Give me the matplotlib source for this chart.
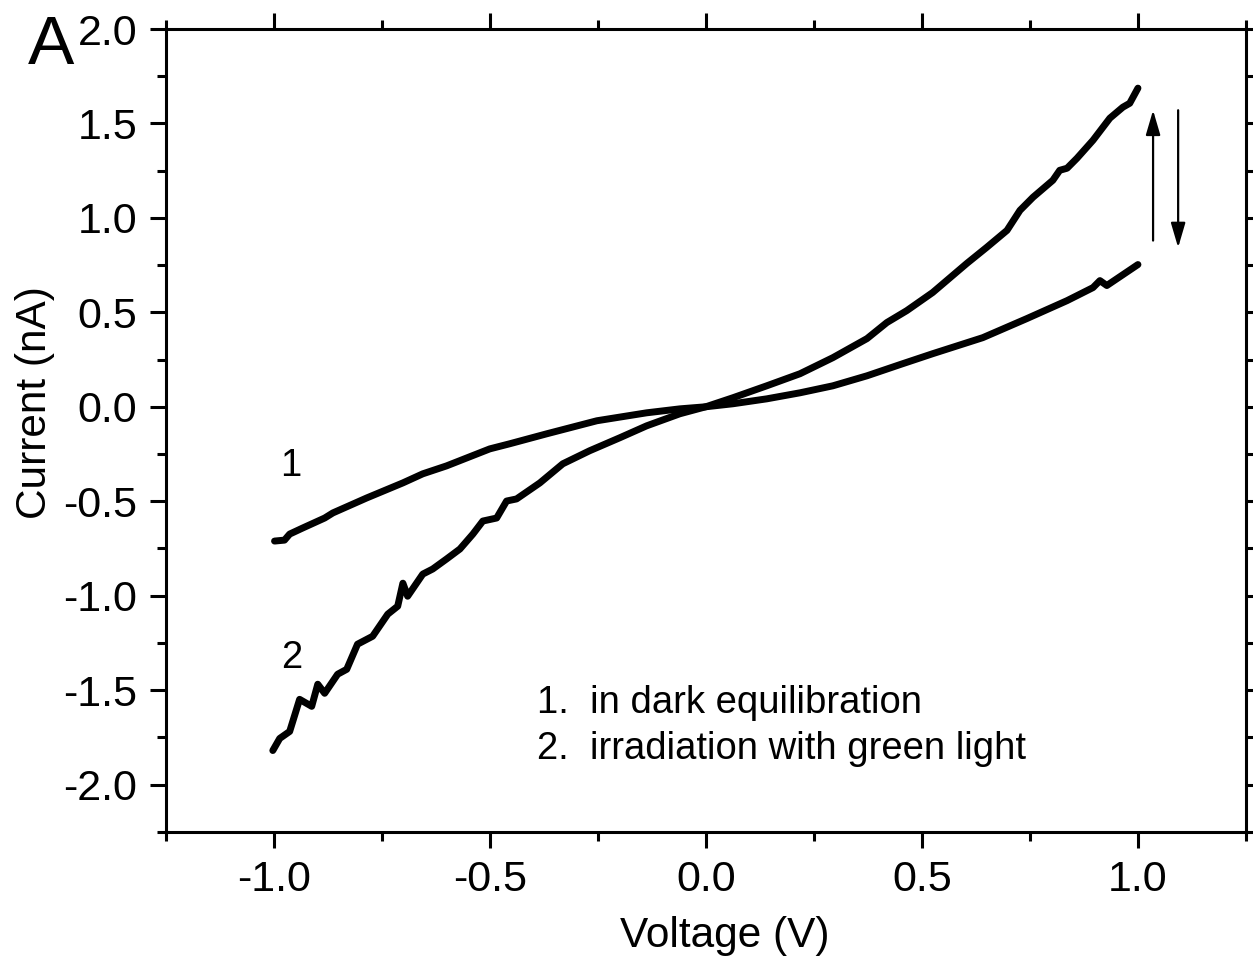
import numpy as np
import matplotlib
matplotlib.use('Agg')
import matplotlib.pyplot as plt
from matplotlib.ticker import MultipleLocator

plt.rcParams['font.family'] = ['Liberation Sans', 'DejaVu Sans']

# curve 1: in dark equilibration
v_dark = [-0.998, -0.975, -0.963, -0.933, -0.882, -0.863, -0.785, -0.701, -0.655, -0.600,
          -0.500, -0.454, -0.368, -0.252, -0.137, -0.060, 0.0, 0.063, 0.141, 0.218,
          0.294, 0.373, 0.449, 0.525, 0.641, 0.743, 0.836, 0.896, 0.912, 0.928, 1.0]
i_dark = [-0.711, -0.706, -0.674, -0.642, -0.589, -0.562, -0.483, -0.403, -0.355, -0.313,
          -0.223, -0.196, -0.143, -0.074, -0.032, -0.011, 0.0, 0.016, 0.042, 0.074,
          0.111, 0.164, 0.223, 0.281, 0.366, 0.467, 0.562, 0.631, 0.668, 0.642, 0.753]

# curve 2: irradiation with green light
v_light = [-1.002, -0.986, -0.963, -0.940, -0.912, -0.898, -0.882, -0.852, -0.831, -0.806,
           -0.771, -0.736, -0.713, -0.701, -0.690, -0.655, -0.632, -0.600, -0.569, -0.539,
           -0.516, -0.484, -0.461, -0.438, -0.384, -0.331, -0.269, -0.199, -0.137, -0.060,
           0.0, 0.063, 0.141, 0.218, 0.294, 0.373, 0.419, 0.465, 0.525, 0.604,
           0.650, 0.697, 0.727, 0.757, 0.803, 0.819, 0.836, 0.859, 0.896, 0.935,
           0.965, 0.981, 1.0]
i_light = [-1.820, -1.756, -1.719, -1.549, -1.586, -1.469, -1.517, -1.416, -1.390, -1.257,
           -1.215, -1.098, -1.056, -0.934, -1.003, -0.886, -0.859, -0.806, -0.753, -0.674,
           -0.605, -0.589, -0.499, -0.488, -0.403, -0.302, -0.233, -0.164, -0.101, -0.037,
           0.0, 0.048, 0.111, 0.175, 0.260, 0.361, 0.446, 0.509, 0.605, 0.759,
           0.844, 0.934, 1.040, 1.109, 1.199, 1.252, 1.263, 1.316, 1.411, 1.528,
           1.586, 1.607, 1.687]

fig = plt.figure(figsize=(12.53, 9.61), dpi=100)
ax = fig.add_axes([0.1322, 0.1345, 0.8622, 0.8353])

ax.plot(v_dark, i_dark, color='black', lw=5, solid_capstyle='round', solid_joinstyle='round')
ax.plot(v_light, i_light, color='black', lw=5, solid_capstyle='round', solid_joinstyle='round')

ax.set_xlim(-1.25, 1.25)
ax.set_ylim(-2.25, 2.0)
ax.xaxis.set_major_locator(MultipleLocator(0.5))
ax.xaxis.set_minor_locator(MultipleLocator(0.25))
ax.yaxis.set_major_locator(MultipleLocator(0.5))
ax.yaxis.set_minor_locator(MultipleLocator(0.25))
ax.xaxis.set_major_formatter(plt.FuncFormatter(lambda v, p: '%.1f' % v))
ax.yaxis.set_major_formatter(plt.FuncFormatter(lambda v, p: '%.1f' % v))

for s in ax.spines.values():
    s.set_linewidth(2.2)
ax.tick_params(which='both', direction='out', top=True, right=True, width=2.2,
               labelsize=31, colors='black')
ax.tick_params(which='major', length=11.5, pad=9)
ax.tick_params(which='minor', length=6.5)

ax.set_xlabel('Voltage (V)', fontsize=30.5, va='center')
ax.set_ylabel('Current (nA)', fontsize=30.5, va='center')
ax.xaxis.set_label_coords(0.5176, -0.130)
ax.yaxis.set_label_coords(-0.121, 0.535)

ax.text(-0.96, -0.313, '1', fontsize=27.5, ha='center', va='center')
ax.text(-0.958, -1.33, '2', fontsize=27.5, ha='center', va='center')
ax.text(-0.39, -1.57, '1.  in dark equilibration', fontsize=27.5, ha='left', va='center')
ax.text(-0.39, -1.814, '2.  irradiation with green light', fontsize=27.5, ha='left', va='center')

arrow = dict(arrowstyle='-|>,head_length=0.75,head_width=0.22', color='black', lw=1.6,
             mutation_scale=20, shrinkA=0, shrinkB=0)
ax.annotate('', xy=(1.035, 1.57), xytext=(1.035, 0.88), arrowprops=arrow)
ax.annotate('', xy=(1.093, 0.843), xytext=(1.093, 1.57), arrowprops=arrow)

fig.text(0.022, 0.952, 'A', fontsize=50, ha='left', va='center')

fig.savefig('out.png', dpi=100)
